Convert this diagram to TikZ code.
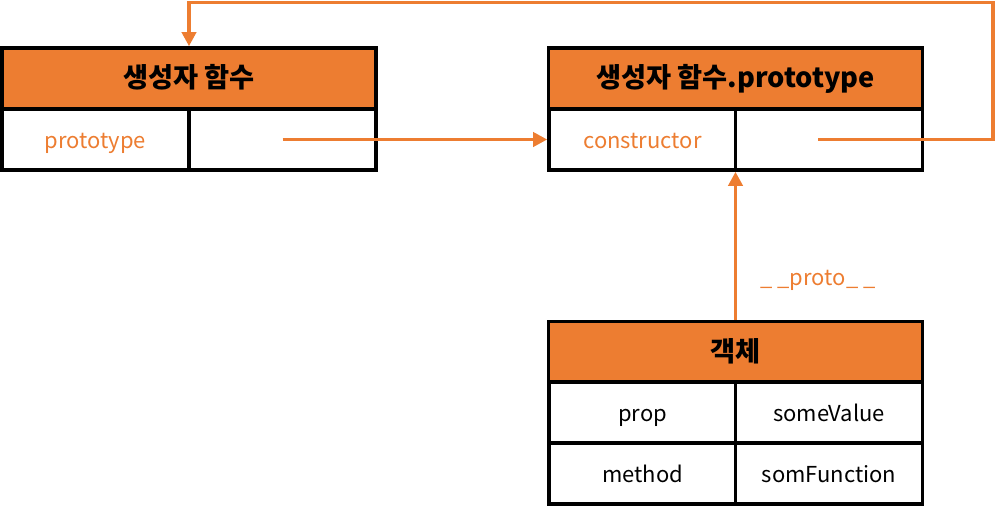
\documentclass[tikz,border=0pt]{standalone}
\usepackage{fontspec}
\setmainfont{Noto Sans CJK KR}
\usepackage{tikz}
\usetikzlibrary{arrows.meta}
\definecolor{jsorange}{HTML}{ED7D31}

\begin{document}
\begin{tikzpicture}
\tikzstyle{every node}+=[inner sep=0pt]
\tikzstyle{head}=[draw=black, line width=2pt, fill=jsorange, minimum width=7.48cm, minimum height=1.22cm, text height=1.1em, text depth=0.05em, font=\fontsize{15.5}{18}\selectfont\bfseries]
\tikzstyle{cell}=[draw=black, line width=2pt, fill=white, minimum width=3.74cm, minimum height=1.22cm, text height=1.15em, text depth=0.1em, font=\fontsize{12.5}{15}\selectfont]
\tikzstyle{link}=[draw=jsorange, line width=2pt, -{Triangle[length=8pt,width=8pt]}]
\useasboundingbox (0,0) rectangle (19.9,-10.12);
% constructor function
\node [head] (ctorHead) at (3.78,-1.57) {생성자 함수};
\node [cell, text=jsorange] (ctorKey) at (1.91,-2.79) {prototype};
\node [cell] (ctorVal) at (5.65,-2.79) {};
% prototype object
\node [head] (protoHead) at (14.71,-1.57) {생성자 함수.prototype};
\node [cell, text=jsorange] (protoKey) at (12.85,-2.79) {constructor};
\node [cell] (protoVal) at (16.58,-2.79) {};
% instance
\node [head] (objHead) at (14.71,-7.04) {객체};
\node [cell] (propKey) at (12.85,-8.25) {prop};
\node [cell] (propVal) at (16.58,-8.25) {someValue};
\node [cell] (methKey) at (12.85,-9.47) {method};
\node [cell] (methVal) at (16.58,-9.47) {somFunction};
% links
\coordinate (loopR) at (19.86,-0.05);
\draw [link] (ctorVal.center) -- (protoKey.west);
\draw [link] ([xshift=-0.22cm]protoVal.center) -| (loopR) -| (ctorHead.north);
\draw [link] (objHead.north) -- (objHead.north |- protoKey.south east);
\node [text=jsorange, font=\fontsize{12.5}{15}\selectfont] (protoLbl) at (16.36,-5.6) {\_ \_proto\_ \_};
\end{tikzpicture}
\end{document}
